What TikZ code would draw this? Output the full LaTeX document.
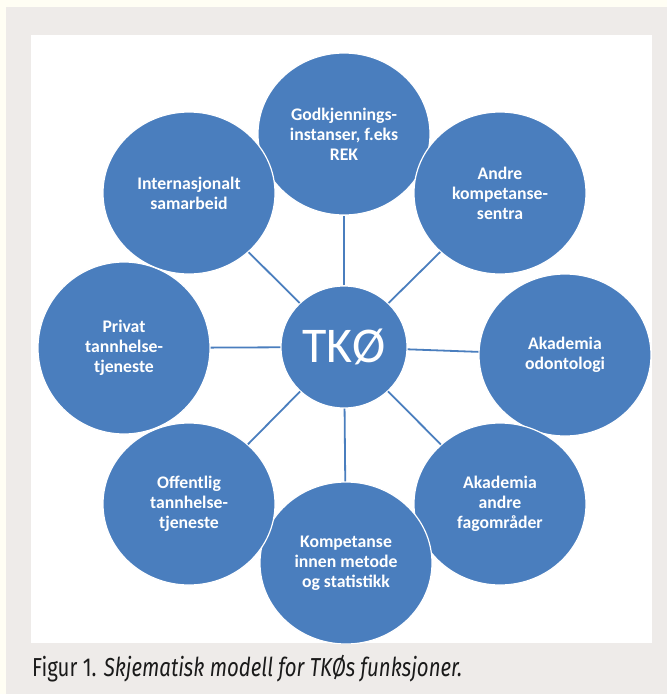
\documentclass[tikz,border=0pt]{standalone}
\usepackage{graphicx}
\usepackage{fontspec}
\setmainfont{Carlito}
\newfontfamily\captionfont{Fira Sans}
\usepackage{tikz}
\usetikzlibrary{shapes.geometric,positioning}
\definecolor{tkoblue}{RGB}{74,126,190}
\definecolor{framegrey}{RGB}{238,235,233}
\definecolor{pagecream}{RGB}{255,254,244}
\definecolor{captionblack}{RGB}{26,26,26}
\tikzset{
  hub/.style={
    draw=white,
    line width=1.2pt,
    fill=tkoblue,
    shape=ellipse,
    inner sep=0pt,
    minimum width=126pt,
    minimum height=122pt,
    text=white,
    font=\fontsize{50}{54}\selectfont
  },
  partner/.style={
    hub,
    minimum width=172pt,
    minimum height=162pt,
    align=center,
    font=\fontsize{17.7}{20}\selectfont\bfseries
  },
  link/.style={
    draw=tkoblue,
    line width=1.8pt
  }
}

\begin{document}
\begin{tikzpicture}[x=1pt, y=-1pt]
   \useasboundingbox (0,0) rectangle (667,694);
   \fill[pagecream] (0,0) rectangle (667,694);
   \fill[framegrey] (6,7) rectangle (667,694);
   \fill[white] (31,35) rectangle (652,643);

   \begin{scope}
   \clip (31,35) rectangle (652,643);
   \node[hub] (tko) at (344,347) {TKØ};
   \node[partner] (rek) at (344,134) {Godkjennings-\\instanser, f.eks\\REK};
   \node[partner] (andre) at (500,193) {Andre\\kompetanse-\\sentra};
   \node[partner] (odont) at (565,355) {Akademia\\odontologi};
   \node[partner] (fag) at (500,504) {Akademia\\andre\\fagområder};
   \node[partner] (metode) at (346,563) {Kompetanse\\innen metode\\og statistikk};
   \node[partner] (offentlig) at (189,504) {Offentlig\\tannhelse-\\tjeneste};
   \node[partner, minimum height=172pt] (privat) at (124,348) {Privat\\tannhelse-\\tjeneste};
   \node[partner] (internasjonalt) at (189,193) {Internasjonalt\\samarbeid};

   \draw[link] (tko) -- (rek);
   \draw[link] (tko) -- (andre);
   \draw[link] (tko) -- (odont);
   \draw[link] (tko) -- (fag);
   \draw[link] (tko) -- (metode);
   \draw[link] (tko) -- (offentlig);
   \draw[link] (tko) -- (privat);
   \draw[link] (tko) -- (internasjonalt);
   \end{scope}

   \node[anchor=base west, inner sep=0pt, text=captionblack] (caption) at (32,676)
     {\resizebox{430pt}{\height}{\captionfont\fontsize{26}{30}\selectfont Figur 1. \itshape Skjematisk modell for TKØs funksjoner.}};
\end{tikzpicture}
\end{document}
